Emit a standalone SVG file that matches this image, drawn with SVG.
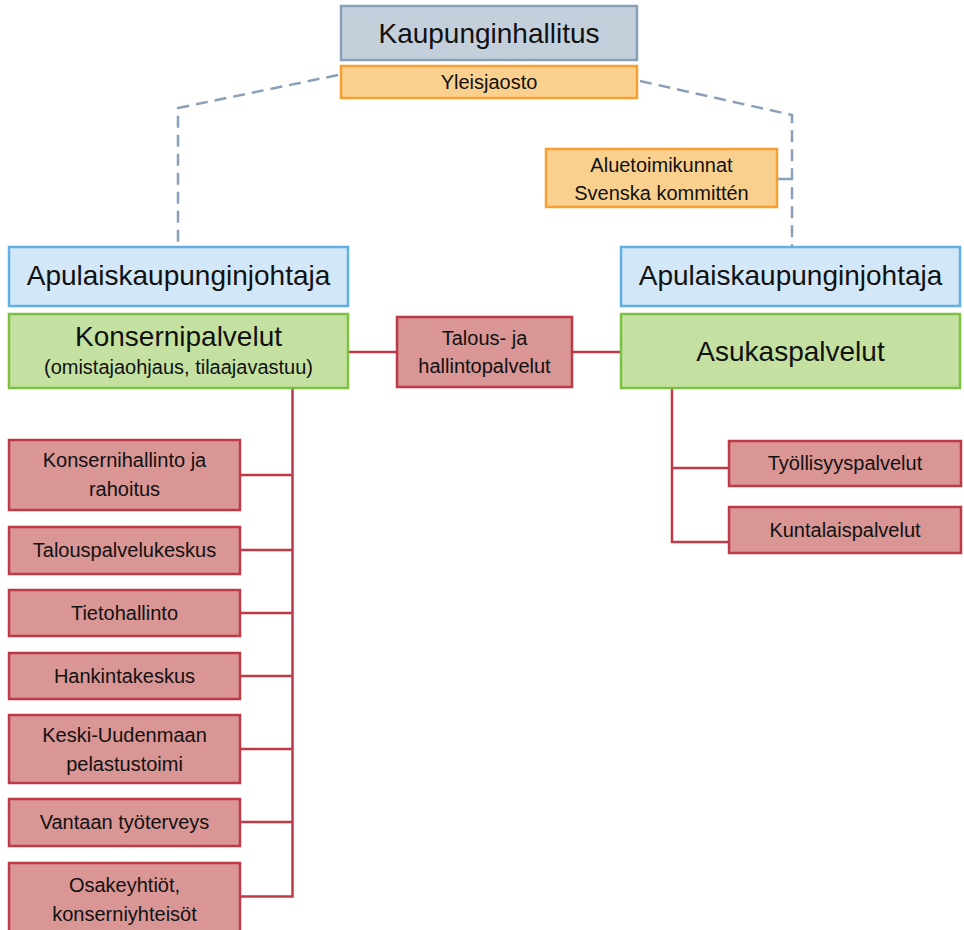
<svg xmlns="http://www.w3.org/2000/svg" width="964" height="930" viewBox="0 0 964 930">
<style>
text{font-family:"Liberation Sans",Arial,sans-serif;fill:#111;text-anchor:middle}
.big{font-size:28px}
.sm{font-size:20px}
.gray{fill:#c3cfdb;stroke:#8aa0b8;stroke-width:2.5}
.org{fill:#fad08f;stroke:#f5a030;stroke-width:2.5}
.blue{fill:#d2e7f7;stroke:#62b0e2;stroke-width:2.5}
.green{fill:#c4e1a2;stroke:#7dc143;stroke-width:2.5}
.red{fill:#d99694;stroke:#be3a46;stroke-width:2.5}
.dash{fill:none;stroke:#8aa0b8;stroke-width:2.5;stroke-dasharray:12 7}
.con{fill:none;stroke:#be3a46;stroke-width:2.5}
</style>
<rect width="964" height="930" fill="#fff"/>
<g id="connectors">
<polyline class="dash" points="338,75 178,108 178,246"/>
<polyline class="dash" points="640,81 792,115 792,246"/>
<line x1="777" y1="179" x2="792" y2="179" stroke="#8aa0b8" stroke-width="2.5"/>
<line class="con" x1="348" y1="352" x2="397" y2="352"/>
<line class="con" x1="572" y1="352" x2="621" y2="352"/>
<polyline class="con" points="292.5,388 292.5,896.5 240,896.5"/>
<line class="con" x1="240" y1="475" x2="292.5" y2="475"/>
<line class="con" x1="240" y1="550" x2="292.5" y2="550"/>
<line class="con" x1="240" y1="613" x2="292.5" y2="613"/>
<line class="con" x1="240" y1="676" x2="292.5" y2="676"/>
<line class="con" x1="240" y1="749" x2="292.5" y2="749"/>
<line class="con" x1="240" y1="822" x2="292.5" y2="822"/>
<polyline class="con" points="672,388 672,542 729,542"/>
<line class="con" x1="672" y1="468" x2="729" y2="468"/>
</g>
<g id="kaupunginhallitus"><rect class="gray" x="341" y="6" width="296" height="54"/><text class="big" x="489" y="43">Kaupunginhallitus</text></g>
<g id="yleisjaosto"><rect class="org" x="341" y="66" width="296" height="32"/><text class="sm" x="489" y="89">Yleisjaosto</text></g>
<g id="aluetoimikunnat"><rect class="org" x="546" y="149" width="231" height="58"/><text class="sm" x="661.5" y="172">Aluetoimikunnat</text><text class="sm" x="661.5" y="200">Svenska kommittén</text></g>
<g id="apulais-left"><rect class="blue" x="9" y="247" width="339" height="59"/><text class="big" x="178.5" y="285">Apulaiskaupunginjohtaja</text></g>
<g id="apulais-right"><rect class="blue" x="621" y="247" width="339" height="59"/><text class="big" x="790.5" y="285">Apulaiskaupunginjohtaja</text></g>
<g id="konsernipalvelut"><rect class="green" x="9" y="314" width="339" height="74"/><text class="big" x="178.5" y="346">Konsernipalvelut</text><text class="sm" x="178.5" y="374">(omistajaohjaus, tilaajavastuu)</text></g>
<g id="talous"><rect class="red" x="397" y="317" width="175" height="70"/><text class="sm" x="484.5" y="345">Talous- ja</text><text class="sm" x="484.5" y="373">hallintopalvelut</text></g>
<g id="asukaspalvelut"><rect class="green" x="621" y="314" width="339" height="74"/><text class="big" x="790.5" y="361">Asukaspalvelut</text></g>
<g id="konsernihallinto"><rect class="red" x="9" y="440" width="231" height="70"/><text class="sm" x="124.5" y="467">Konsernihallinto ja</text><text class="sm" x="124.5" y="496">rahoitus</text></g>
<g id="talouspalvelukeskus"><rect class="red" x="9" y="527" width="231" height="47"/><text class="sm" x="124.5" y="557">Talouspalvelukeskus</text></g>
<g id="tietohallinto"><rect class="red" x="9" y="590" width="231" height="46"/><text class="sm" x="124.5" y="620">Tietohallinto</text></g>
<g id="hankintakeskus"><rect class="red" x="9" y="653" width="231" height="46"/><text class="sm" x="124.5" y="683">Hankintakeskus</text></g>
<g id="pelastustoimi"><rect class="red" x="9" y="715" width="231" height="68"/><text class="sm" x="124.5" y="742">Keski-Uudenmaan</text><text class="sm" x="124.5" y="771">pelastustoimi</text></g>
<g id="tyoterveys"><rect class="red" x="9" y="799" width="231" height="47"/><text class="sm" x="124.5" y="829">Vantaan työterveys</text></g>
<g id="osakeyhtiot"><rect class="red" x="9" y="863" width="231" height="80"/><text class="sm" x="124.5" y="892">Osakeyhtiöt,</text><text class="sm" x="124.5" y="921">konserniyhteisöt</text></g>
<g id="tyollisyyspalvelut"><rect class="red" x="729" y="441" width="232" height="45"/><text class="sm" x="845" y="470">Työllisyyspalvelut</text></g>
<g id="kuntalaispalvelut"><rect class="red" x="729" y="507" width="232" height="46"/><text class="sm" x="845" y="537">Kuntalaispalvelut</text></g>
</svg>
